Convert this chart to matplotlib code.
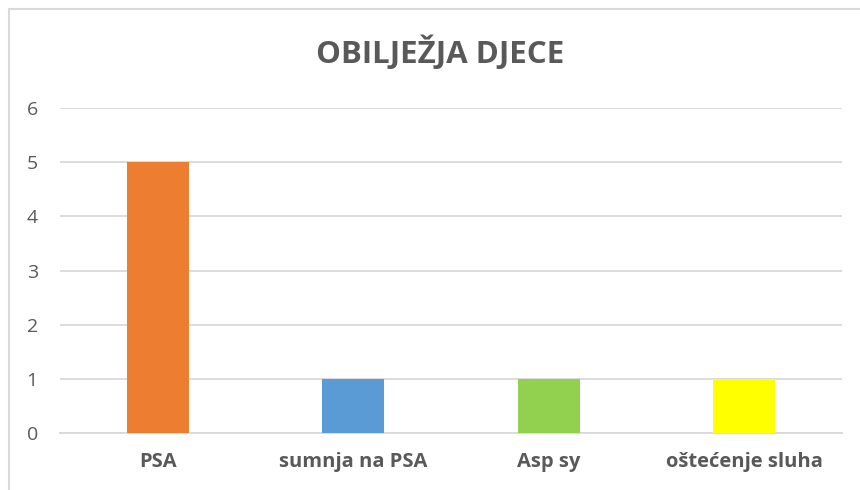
import matplotlib.pyplot as plt
from matplotlib.patches import Rectangle

# --- Data ---
categories = ["PSA", "sumnja na PSA", "Asp sy", "oštećenje sluha"]
values = [5, 1, 1, 1]
bar_colors = ["#ED7D31", "#5B9BD5", "#92D050", "#FFFF00"]
title = "OBILJEŽJA DJECE"

plt.rcParams["font.family"] = ["Open Sans", "DejaVu Sans"]
text_color = "#595959"

fig = plt.figure(figsize=(8.6, 4.9), dpi=100)
ax = fig.add_axes([60 / 860, 1 - 433 / 490, 782 / 860, 325 / 490])

x = range(len(categories))
ax.bar(x, values, width=0.317, color=bar_colors, zorder=3)

ax.set_xlim(-0.5, len(categories) - 0.5)
ax.set_ylim(0, 6)
ax.set_yticks(range(0, 7))
ax.set_xticks(list(x))
ax.set_xticklabels(categories, fontweight="bold", fontsize=14.5, color=text_color)
ax.tick_params(axis="y", length=0, pad=16, labelsize=14, labelcolor=text_color)
ax.tick_params(axis="x", length=0, pad=14)

# gridlines
ax.yaxis.grid(True, color="#D9D9D9", linewidth=1.3, zorder=0)
for side in ["top", "right", "left"]:
    ax.spines[side].set_visible(False)
ax.spines["bottom"].set_color("#D9D9D9")
ax.spines["bottom"].set_linewidth(1.3)

fig.text(440 / 860, 1 - 53 / 490, title, ha="center", va="center",
         fontsize=22.5, fontweight="bold", color=text_color)

# chart frame (runs off the right and bottom edges)
fig.patches.append(Rectangle((9 / 860, -0.05), 1.0, 1 - 9 / 490 + 0.05,
                             transform=fig.transFigure, fill=False,
                             edgecolor="#D9D9D9", linewidth=1.5))

fig.savefig("out.png", dpi=100)
